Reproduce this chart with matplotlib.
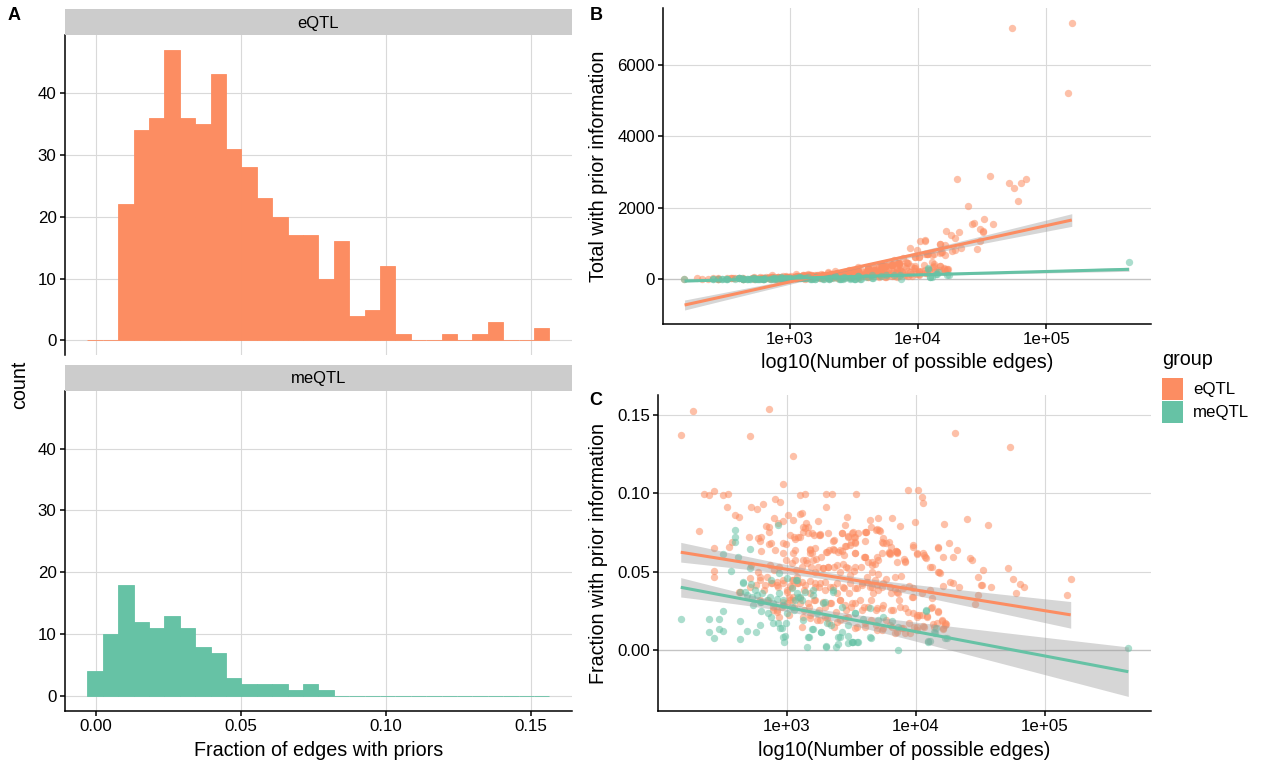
import numpy as np
import matplotlib
matplotlib.use("Agg")
import matplotlib.pyplot as plt
from matplotlib.patches import Rectangle
from matplotlib.ticker import NullLocator

plt.rcParams['font.family'] = ['Liberation Sans', 'DejaVu Sans']

# ---- data ----
groups = ['eQTL', 'meQTL']
colors = {'eQTL': '#FC8D62', 'meQTL': '#66C2A5'}

# histogram (30 bins, shared by both facets)
bin_start = -0.0029
bin_width = 0.005307
eqtl_counts = [0, 0, 22, 34, 36, 47, 36, 35, 43, 31, 28, 23, 20, 17, 17,
               10, 16, 4, 5, 12, 1, 0, 0, 1, 0, 1, 3, 0, 0, 2]
meqtl_counts = [4, 10, 18, 12, 11, 13, 11, 8, 7, 3, 2, 2, 2, 1, 2,
                1, 0, 0, 0, 0, 0, 0, 0, 0, 0, 0, 0, 0, 0, 0]

# (log10 number of possible edges, fraction with prior information)
eqtl_pts = [
    (2.179, 0.1373), (2.274, 0.1529), (2.864, 0.1539), (2.719, 0.1367), (3.050, 0.1241), (4.307, 0.1384), (4.733, 0.1299),
    (2.319, 0.0762), (2.360, 0.0996), (2.401, 0.0988), (2.437, 0.1016), (2.508, 0.0988), (2.544, 0.0996),
    (2.541, 0.0913), (2.603, 0.0864), (2.633, 0.0852), (2.721, 0.0911), (2.772, 0.0898), (2.819, 0.0932), (2.908, 0.0964),
    (2.947, 0.0945), (2.973, 0.1058), (2.840, 0.0794), (2.861, 0.0783), (2.864, 0.0756), (2.905, 0.0841), (3.012, 0.0860),
    (3.047, 0.0830), (3.101, 0.0990), (3.139, 0.0994), (3.104, 0.0869), (3.116, 0.0873),
    (3.302, 0.0996), (3.353, 0.0996), (3.302, 0.0913), (3.536, 0.0998), (3.246, 0.0824), (3.465, 0.0847), (3.554, 0.0749),
    (3.613, 0.0752), (3.711, 0.0843), (3.815, 0.0841), (3.880, 0.0794),
    (3.939, 0.1024), (4.019, 0.1020), (4.052, 0.0975), (4.058, 0.0937), (3.993, 0.0820), (4.221, 0.0805), (4.393, 0.0835),
    (4.559, 0.0801), (4.259, 0.0686), (4.319, 0.0639), (4.176, 0.0651), (4.419, 0.0588), (4.434, 0.0575), (4.517, 0.0509),
    (4.481, 0.0466), (4.508, 0.0413), (4.585, 0.0405), (4.713, 0.0522), (4.751, 0.0453), (4.807, 0.0422), (4.840, 0.0405),
    (4.778, 0.0366), (5.201, 0.0451), (5.172, 0.0351), (4.458, 0.0294), (4.265, 0.0434), (4.289, 0.0428), (4.333, 0.0402),
    (4.185, 0.0490), (4.120, 0.0270), (4.090, 0.0219), (4.176, 0.0247), (4.203, 0.0187), (4.236, 0.0166),
    (4.067, 0.0607), (4.076, 0.0585), (3.976, 0.0660), (4.007, 0.0617), (3.913, 0.0568), (3.972, 0.0336),
    (2.800, 0.0720), (2.438, 0.0653), (2.575, 0.0688), (2.557, 0.0660), (2.864, 0.0675), (2.993, 0.0677), (2.974, 0.0621),
    (3.065, 0.0707), (2.800, 0.0634), (3.052, 0.0621),
    (3.452, 0.0798), (3.648, 0.0830), (3.702, 0.0771), (3.717, 0.0766), (3.125, 0.0787), (3.142, 0.0777), (3.168, 0.0749),
    (3.212, 0.0734), (3.258, 0.0739), (3.091, 0.0724), (3.426, 0.0745), (3.478, 0.0728), (3.516, 0.0752), (3.529, 0.0720),
    (3.498, 0.0692), (3.529, 0.0685), (3.612, 0.0752), (3.609, 0.0698), (3.744, 0.0717), (3.748, 0.0685), (3.793, 0.0692),
    (3.806, 0.0660), (3.847, 0.0634), (3.367, 0.0702), (3.454, 0.0666), (3.181, 0.0643), (3.199, 0.0617), (3.357, 0.0645),
    (3.396, 0.0628), (3.431, 0.0632), (3.529, 0.0617), (3.599, 0.0596), (3.702, 0.0596), (3.795, 0.0621), (3.852, 0.0624),
    (3.909, 0.0581), (3.976, 0.0671), (4.058, 0.0617), (4.172, 0.0656), (3.305, 0.0626), (3.228, 0.0579),
    (4.213, 0.0596), (4.290, 0.0596), (4.123, 0.0528), (4.182, 0.0496), (4.213, 0.0411), (4.510, 0.0415), (4.484, 0.0351),
    (4.123, 0.0330), (4.123, 0.0273), (4.174, 0.0245), (4.200, 0.0192), (4.226, 0.0174), (4.162, 0.0170), (4.208, 0.0132),
    (2.634, 0.0372), (2.717, 0.0458), (2.781, 0.0500), (2.794, 0.0447), (2.833, 0.0415), (2.846, 0.0468), (2.885, 0.0426),
    (2.923, 0.0436), (2.936, 0.0404), (2.974, 0.0426), (3.001, 0.0372), (3.026, 0.0409), (3.052, 0.0447), (3.078, 0.0468),
    (2.897, 0.0255), (2.923, 0.0245), (2.962, 0.0277), (3.001, 0.0298), (3.026, 0.0319), (3.047, 0.0340),
    (3.065, 0.0575), (3.156, 0.0554), (3.207, 0.0575), (3.284, 0.0522), (3.323, 0.0532), (3.388, 0.0543), (3.434, 0.0550),
    (3.478, 0.0522), (3.529, 0.0532), (3.607, 0.0596), (3.659, 0.0564), (3.684, 0.0550), (3.800, 0.0617), (3.852, 0.0628),
    (4.007, 0.0613), (4.071, 0.0596), (4.110, 0.0532), (4.174, 0.0500),
    (3.039, 0.0447), (3.078, 0.0426), (3.117, 0.0436), (3.142, 0.0415), (3.181, 0.0443), (3.220, 0.0404), (3.258, 0.0426),
    (3.297, 0.0436), (3.336, 0.0404), (3.388, 0.0430), (3.439, 0.0404), (3.491, 0.0426), (3.543, 0.0394), (3.581, 0.0415),
    (3.620, 0.0436), (3.659, 0.0404), (3.702, 0.0415), (3.749, 0.0426), (3.800, 0.0404), (3.852, 0.0372), (3.904, 0.0394),
    (3.981, 0.0340), (4.046, 0.0362), (4.110, 0.0383),
    (3.052, 0.0319), (3.104, 0.0330), (3.168, 0.0298), (3.220, 0.0319), (3.284, 0.0308), (3.336, 0.0298), (3.413, 0.0319),
    (3.452, 0.0287), (3.504, 0.0298), (3.568, 0.0319), (3.632, 0.0277), (3.697, 0.0266), (3.749, 0.0287), (3.826, 0.0255),
    (3.878, 0.0277), (3.942, 0.0245), (4.007, 0.0224), (4.084, 0.0213),
    (3.129, 0.0213), (3.181, 0.0224), (3.258, 0.0192), (3.310, 0.0202), (3.388, 0.0181), (3.452, 0.0202), (3.543, 0.0149),
    (3.607, 0.0170), (3.697, 0.0128), (3.749, 0.0138), (3.800, 0.0160), (3.852, 0.0117), (3.904, 0.0138), (3.955, 0.0107),
    (4.007, 0.0128), (4.058, 0.0153), (4.135, 0.0166),
    (2.935, 0.0813), (2.970, 0.0824), (3.030, 0.0735), (3.059, 0.0724), (3.104, 0.0724), (3.127, 0.0756), (3.148, 0.0809),
    (3.166, 0.0788), (3.196, 0.0745), (3.249, 0.0735), (3.261, 0.0732), (3.320, 0.0747), (3.361, 0.0694), (3.430, 0.0749),
    (3.459, 0.0664), (3.474, 0.0724), (3.510, 0.0745), (3.519, 0.0724), (3.533, 0.0692), (3.607, 0.0752), (3.652, 0.0788),
    (3.696, 0.0766), (3.720, 0.0762), (3.741, 0.0692), (3.770, 0.0681), (3.794, 0.0628), (3.847, 0.0634), (3.853, 0.0617),
    (2.707, 0.0724), (2.781, 0.0717), (2.793, 0.0698), (2.881, 0.0681), (2.911, 0.0639), (2.970, 0.0681), (2.994, 0.0575),
    (3.062, 0.0639), (3.127, 0.0575), (3.148, 0.0575), (3.178, 0.0639), (3.184, 0.0617), (3.222, 0.0649), (3.270, 0.0596),
    (3.311, 0.0628), (3.332, 0.0639), (3.370, 0.0639), (3.415, 0.0639), (3.444, 0.0607), (3.489, 0.0671), (3.530, 0.0622),
    (3.607, 0.0596), (3.628, 0.0564), (3.661, 0.0541), (3.711, 0.0575), (3.741, 0.0617), (3.800, 0.0613), (3.856, 0.0564),
    (3.919, 0.0564),
    (2.437, 0.0507), (2.437, 0.0468), (2.721, 0.0543), (2.793, 0.0468), (2.873, 0.0545), (2.902, 0.0511), (2.941, 0.0532),
    (3.044, 0.0554), (3.074, 0.0511), (3.119, 0.0532), (3.187, 0.0532), (3.222, 0.0500), (3.243, 0.0532), (3.281, 0.0526),
    (3.320, 0.0532), (3.370, 0.0528), (3.415, 0.0500), (3.459, 0.0532), (3.489, 0.0479), (3.521, 0.0505), (3.578, 0.0532),
    (3.622, 0.0468), (3.661, 0.0498), (3.681, 0.0447), (3.711, 0.0483), (3.770, 0.0451), (3.836, 0.0468), (3.889, 0.0473),
    (2.636, 0.0368), (2.719, 0.0405), (2.763, 0.0415), (2.822, 0.0383), (2.881, 0.0426), (2.929, 0.0415), (2.970, 0.0447),
    (3.000, 0.0383), (3.044, 0.0405), (3.089, 0.0426), (3.133, 0.0383), (3.178, 0.0362), (3.222, 0.0426), (3.252, 0.0405),
    (3.296, 0.0383), (3.356, 0.0405), (3.391, 0.0362), (3.444, 0.0394), (3.480, 0.0362), (3.533, 0.0394), (3.584, 0.0426),
    (3.646, 0.0400), (3.667, 0.0362), (3.711, 0.0383), (3.741, 0.0405), (3.806, 0.0362), (3.836, 0.0392), (3.859, 0.0362),
    (3.948, 0.0409), (3.978, 0.0394),
    (2.793, 0.0319), (2.852, 0.0319), (2.896, 0.0277), (2.926, 0.0255), (2.970, 0.0309), (3.015, 0.0341), (3.059, 0.0277),
    (3.104, 0.0298), (3.133, 0.0255), (3.172, 0.0277), (3.213, 0.0319), (3.252, 0.0255), (3.296, 0.0277), (3.341, 0.0298),
    (3.379, 0.0245), (3.415, 0.0319), (3.459, 0.0255), (3.498, 0.0277), (3.533, 0.0298), (3.581, 0.0255), (3.599, 0.0277),
    (3.652, 0.0319), (3.696, 0.0255), (3.741, 0.0266), (3.806, 0.0255), (3.867, 0.0319), (3.919, 0.0266), (3.978, 0.0234),
    (4.022, 0.0224),
    (2.941, 0.0213), (3.015, 0.0224), (3.119, 0.0149), (3.178, 0.0202), (3.237, 0.0192), (3.296, 0.0213), (3.326, 0.0170),
    (3.370, 0.0149), (3.415, 0.0192), (3.474, 0.0213), (3.533, 0.0138), (3.607, 0.0149), (3.652, 0.0192), (3.696, 0.0160),
    (3.741, 0.0128), (3.770, 0.0192), (3.815, 0.0149), (3.836, 0.0106), (3.889, 0.0138), (3.919, 0.0106), (3.948, 0.0170),
    (3.984, 0.0149), (4.007, 0.0213), (4.052, 0.0224), (4.007, 0.0149), (4.067, 0.0149), (4.141, 0.0149), (4.230, 0.0160),
    (4.209, 0.0138),
]

meqtl_pts = [
    (2.179, 0.0196), (2.399, 0.0196), (2.473, 0.0196), (2.399, 0.0117), (2.437, 0.0075), (2.473, 0.0132), (2.511, 0.0123),
    (2.511, 0.0249), (2.505, 0.0613), (2.573, 0.0502), (2.603, 0.0766), (2.603, 0.0720), (2.603, 0.0688), (2.627, 0.0596),
    (2.639, 0.0187), (2.639, 0.0070), (2.692, 0.0123), (2.719, 0.0643), (2.665, 0.0434), (2.763, 0.0117), (2.793, 0.0160),
    (2.798, 0.0251), (2.881, 0.0213), (2.896, 0.0170), (2.932, 0.0801), (2.950, 0.0138), (2.970, 0.0081), (2.991, 0.0089),
    (2.979, 0.0053), (2.994, 0.0170), (2.769, 0.0351), (2.799, 0.0309), (2.881, 0.0447), (2.941, 0.0490), (3.000, 0.0458),
    (3.074, 0.0447), (3.157, 0.0021), (3.172, 0.0085), (3.199, 0.0132), (3.267, 0.0117), (3.305, 0.0021), (3.341, 0.0160),
    (3.385, 0.0021), (3.415, 0.0085), (3.430, 0.0113), (3.474, 0.0047), (3.510, 0.0049), (3.548, 0.0049), (3.533, 0.0234),
    (3.652, 0.0079), (3.865, 0.0000), (3.815, 0.0187), (3.859, 0.0149), (4.081, 0.0255), (4.096, 0.0053), (4.156, 0.0138),
    (4.244, 0.0075), (3.044, 0.0394), (3.089, 0.0341), (3.119, 0.0319), (3.207, 0.0351), (3.296, 0.0309), (3.356, 0.0383),
    (2.941, 0.0362), (2.970, 0.0319), (3.237, 0.0234), (3.474, 0.0160), (3.593, 0.0196), (3.711, 0.0192), (5.646, 0.0011),
    (2.674, 0.0370), (2.727, 0.0422), (2.852, 0.0234), (3.059, 0.0255),
    (2.691, 0.0351), (2.730, 0.0340), (2.639, 0.0372), (2.794, 0.0308), (2.846, 0.0319), (2.755, 0.0383), (2.871, 0.0340),
    (2.892, 0.0298), (2.923, 0.0324), (2.974, 0.0287), (3.001, 0.0234), (3.039, 0.0277), (3.065, 0.0319), (3.078, 0.0366),
    (2.936, 0.0174), (2.962, 0.0139), (2.742, 0.0287), (2.807, 0.0362), (2.717, 0.0522), (2.665, 0.0430),
    (3.078, 0.0447), (3.104, 0.0340), (3.142, 0.0372), (3.207, 0.0383), (3.284, 0.0298), (3.357, 0.0372), (3.426, 0.0277),
    (3.529, 0.0234), (3.645, 0.0266), (3.749, 0.0213), (3.129, 0.0192), (3.201, 0.0132), (3.263, 0.0117), (3.168, 0.0085),
    (3.310, 0.0174), (3.400, 0.0081), (3.478, 0.0089), (3.504, 0.0053), (3.555, 0.0053), (3.645, 0.0081), (4.079, 0.0251),
    (4.097, 0.0059), (4.143, 0.0117), (3.303, 0.0026), (3.396, 0.0038), (3.512, 0.0049),
    (4.149, 0.0110), (4.110, 0.0059), (4.226, 0.0075),
]

# linear fits (on log10 x): x range, fitted y at the ends,
# half width of the confidence band at left end / narrowest / right end
fit_total = {
    'eQTL': {'x': (2.18, 5.20), 'y': (-719, 1659), 'hw': (140, 40, 177)},
    'meQTL': {'x': (2.18, 5.646), 'y': (-48, 280), 'hw': (25, 10, 55)},
}
fit_frac = {
    'eQTL': {'x': (2.18, 5.20), 'y': (0.0624, 0.0224), 'hw': (0.0063, 0.0022, 0.0085)},
    'meQTL': {'x': (2.18, 5.646), 'y': (0.0400, -0.0139), 'hw': (0.0062, 0.0026, 0.0158)},
}

points = {'eQTL': np.array(eqtl_pts), 'meQTL': np.array(meqtl_pts)}
counts = {'eQTL': eqtl_counts, 'meQTL': meqtl_counts}

W, H = 1261, 766
fig = plt.figure(figsize=(W / 100, H / 100), dpi=100)

GRID = '#d9d9d9'
TICK = 12.2
TITLE = 14.2


def box(l, t, r, b):
    return [l / W, 1 - b / H, (r - l) / W, (b - t) / H]


def ftext(x, y, s, **kw):
    fig.text(x / W, 1 - y / H, s, **kw)


def style(ax):
    for s in ['top', 'right']:
        ax.spines[s].set_visible(False)
    for s in ['left', 'bottom']:
        ax.spines[s].set_linewidth(1.1)
    ax.tick_params(length=3.6, width=1.1, labelsize=TICK, pad=2.5)
    ax.grid(True, color=GRID, lw=0.8)
    ax.set_axisbelow(True)


def band(fit, n=150):
    x0, x1 = fit['x']
    y0, y1 = fit['y']
    hl, hmin, hr = fit['hw']
    a = np.sqrt(hl ** 2 - hmin ** 2)
    b = np.sqrt(hr ** 2 - hmin ** 2)
    xc = (x0 * b + x1 * a) / (a + b)
    k = ((a + b) / (x1 - x0)) ** 2
    xs = np.linspace(x0, x1, n)
    ys = y0 + (y1 - y0) * (xs - x0) / (x1 - x0)
    hw = np.sqrt(hmin ** 2 + k * (xs - xc) ** 2)
    return xs, ys, hw


# ---- panel A: faceted histograms ----
edges = bin_start + bin_width * np.arange(31)
panel_px = {'eQTL': (35, 355), 'meQTL': (390.7, 710.7)}
strip_px = {'eQTL': (9, 35), 'meQTL': (364.5, 390.7)}
for g in groups:
    t, b = panel_px[g]
    ax = fig.add_axes(box(65, t, 572, b))
    style(ax)
    ax.bar(edges[:-1], counts[g], width=bin_width, align='edge', color=colors[g],
           edgecolor=colors[g], lw=0.6)
    ax.set_xlim(-0.0106, 0.1641)
    ax.set_ylim(-2.35, 49.35)
    ax.set_yticks([0, 10, 20, 30, 40])
    ax.set_xticks([0.0, 0.05, 0.10, 0.15])
    if g == 'eQTL':
        ax.spines['bottom'].set_visible(False)
        ax.tick_params(axis='x', length=0, labelbottom=False)
    else:
        ax.set_xticklabels(['0.00', '0.05', '0.10', '0.15'])
    st, sb = strip_px[g]
    sax = fig.add_axes(box(65, st, 572, sb))
    sax.set_facecolor('#cccccc')
    sax.set_xticks([])
    sax.set_yticks([])
    for s in sax.spines.values():
        s.set_visible(False)
    sax.text(0.5, 0.45, g, transform=sax.transAxes, ha='center', va='center', fontsize=12)

ftext(318.5, 750, 'Fraction of edges with priors', ha='center', va='center', fontsize=TITLE)
ftext(20, 385, 'count', ha='center', va='center', rotation=90, fontsize=TITLE)

# ---- panels B and C ----
axB = fig.add_axes(box(663.4, 8, 1150.9, 324))
axC = fig.add_axes(box(658.4, 395, 1150.9, 710.7))
for ax, fits in [(axB, fit_total), (axC, fit_frac)]:
    style(ax)
    ax.set_xscale('log')
    ax.xaxis.set_minor_locator(NullLocator())
    ax.set_xticks([1e3, 1e4, 1e5])
    ax.set_xticklabels(['1e+03', '1e+04', '1e+05'])
    ax.axhline(0, color='#c4c4c4', lw=0.9, zorder=0.6)
    for g in groups:
        p = points[g]
        n_edges = 10 ** p[:, 0]
        yv = p[:, 1] * n_edges if ax is axB else p[:, 1]
        ax.scatter(n_edges, yv, s=28, color=colors[g], alpha=0.55, lw=0, zorder=2)
    for g in groups:
        xs, ys, hw = band(fits[g])
        ax.fill_between(10 ** xs, ys - hw, ys + hw, color='#999999', alpha=0.4, lw=0, zorder=3)
        ax.plot(10 ** xs, ys, color=colors[g], lw=2.2, zorder=4, solid_capstyle='butt')

axB.set_xlim(10 ** 2.015, 10 ** 5.817)
axB.set_ylim(-1250, 7590)
axB.set_yticks([0, 2000, 4000, 6000])
axC.set_xlim(10 ** 2.007, 10 ** 5.821)
axC.set_ylim(-0.0388, 0.1628)
axC.set_yticks([0.0, 0.05, 0.10, 0.15])
axC.set_yticklabels(['0.00', '0.05', '0.10', '0.15'])

ftext(907, 363, 'log10(Number of possible edges)', ha='center', va='center', fontsize=TITLE)
ftext(904.6, 750, 'log10(Number of possible edges)', ha='center', va='center', fontsize=TITLE)
ftext(599, 166, 'Total with prior information', ha='center', va='center', rotation=90, fontsize=TITLE)
ftext(599, 553, 'Fraction with prior information', ha='center', va='center', rotation=90, fontsize=TITLE)

# panel tags
ftext(14, 16, 'A', ha='center', va='center', fontsize=13, fontweight='bold')
ftext(596, 16, 'B', ha='center', va='center', fontsize=13, fontweight='bold')
ftext(596, 400, 'C', ha='center', va='center', fontsize=13, fontweight='bold')

# legend
ftext(1162, 365, 'group', ha='left', va='baseline', fontsize=TITLE)
for i, g in enumerate(groups):
    top = 378 + i * 23
    fig.add_artist(Rectangle((1162 / W, 1 - (top + 22) / H), 21 / W, 22 / H,
                             transform=fig.transFigure, color=colors[g], lw=0))
    ftext(1193, top + 11, g, ha='left', va='center', fontsize=TICK)

fig.savefig('out.png', dpi=100)
